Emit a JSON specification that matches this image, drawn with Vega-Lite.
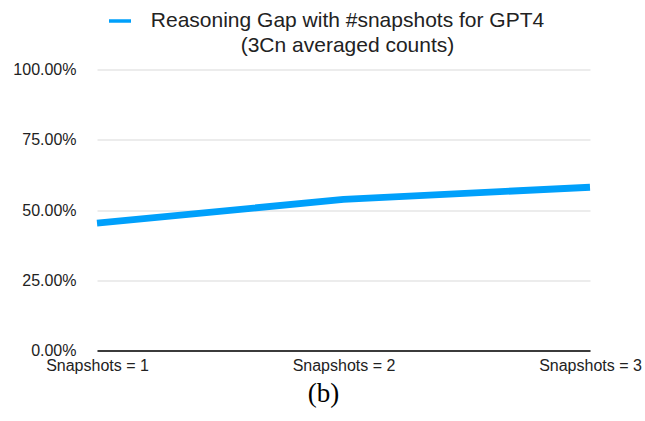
{
  "$schema": "https://vega.github.io/schema/vega-lite/v6.json",
  "width": 493,
  "height": 281,
  "autosize": {"type": "none"},
  "padding": {"left": 97, "top": 69.5, "right": 55, "bottom": 70.5},
  "background": "white",
  "config": {"view": {"stroke": null}, "font": "Liberation Sans"},
  "data": {
    "values": [
      {"snapshots": "Snapshots = 1", "gap": 0.453, "series": "Reasoning Gap with #snapshots for GPT4 (3Cn averaged counts)"},
      {"snapshots": "Snapshots = 2", "gap": 0.538, "series": "Reasoning Gap with #snapshots for GPT4 (3Cn averaged counts)"},
      {"snapshots": "Snapshots = 3", "gap": 0.581, "series": "Reasoning Gap with #snapshots for GPT4 (3Cn averaged counts)"}
    ]
  },
  "mark": {"type": "line", "strokeWidth": 6.8, "strokeCap": "butt", "strokeJoin": "round"},
  "encoding": {
    "x": {
      "field": "snapshots",
      "type": "ordinal",
      "scale": {"type": "point", "padding": 0},
      "axis": {
        "title": "(b)",
        "titleFont": "Liberation Serif",
        "titleFontSize": 27,
        "titleFontWeight": "normal",
        "titleColor": "#000000",
        "titleX": 226,
        "titleY": 51,
        "titleBaseline": "alphabetic",
        "labelAngle": 0,
        "labelFontSize": 16,
        "labelColor": "#222222",
        "labelPadding": 7,
        "ticks": false,
        "domainColor": "#000000",
        "domainWidth": 1.5,
        "grid": false,
        "zindex": 1
      }
    },
    "y": {
      "field": "gap",
      "type": "quantitative",
      "scale": {"domain": [0, 1]},
      "axis": {
        "title": null,
        "values": [0, 0.25, 0.5, 0.75, 1],
        "format": ".2%",
        "labelFontSize": 16,
        "labelColor": "#222222",
        "labelPadding": 21,
        "ticks": false,
        "domain": false,
        "gridColor": "#d9d9d9",
        "gridWidth": 1.2
      }
    },
    "color": {
      "field": "series",
      "type": "nominal",
      "scale": {"range": ["#00a0fb"]},
      "legend": {
        "title": null,
        "orient": "none",
        "legendX": 10,
        "legendY": -61.5,
        "padding": 0,
        "symbolType": "stroke",
        "symbolSize": 484,
        "symbolStrokeWidth": 3.5,
        "labelFontSize": 21,
        "labelColor": "#222222",
        "labelAlign": "center",
        "labelBaseline": "middle",
        "labelOffset": 214.5,
        "labelLimit": 0,
        "labelExpr": "[slice(datum.label, 0, indexof(datum.label, ' (')), slice(datum.label, indexof(datum.label, ' (') + 1)]",
        "encode": {"labels": {"update": {"lineHeight": {"value": 25}}}}
      }
    }
  }
}
